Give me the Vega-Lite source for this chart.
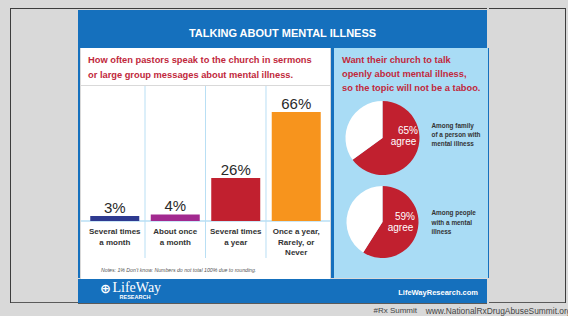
{
  "$schema": "https://vega.github.io/schema/vega-lite/v6.json",
  "background": "#d9d9d9",
  "padding": {"left": 10, "top": 8, "right": 0, "bottom": 0},
  "config": {"view": {"stroke": null}, "concat": {"spacing": 0}, "text": {"font": "Liberation Sans"}},
  "datasets": {
    "bars": [
      {"category": "Several times|a month", "share": 0.03},
      {"category": "About once|a month", "share": 0.04},
      {"category": "Several times|a year", "share": 0.26},
      {"category": "Once a year,|Rarely, or|Never", "share": 0.66}
    ],
    "pie1": [
      {"group": "Among family|of a person with|mental illness", "answer": "agree", "share": 0.65},
      {"group": "Among family|of a person with|mental illness", "answer": "other", "share": 0.35}
    ],
    "pie2": [
      {"group": "Among people|with a mental|illness", "answer": "agree", "share": 0.59},
      {"group": "Among people|with a mental|illness", "answer": "other", "share": 0.41}
    ],
    "notes": [{"note": "Notes: 1% Don't know. Numbers do not total 100% due to rounding."}]
  },
  "spacing": 0,
  "vconcat": [
    {
      "spacing": 0,
      "hconcat": [
        {
          "spacing": 0,
          "hconcat": [
            {"width": 1, "height": 295, "view": {"fill": "#3d3d3d"}, "mark": {"type": "text", "text": ""}},
            {"spacing": 0, "vconcat": [
              {"width": 67, "height": 1, "view": {"fill": "#3d3d3d"}, "mark": {"type": "text", "text": ""}},
              {"width": 67, "height": 293, "view": {"fill": "#d9d9d9"}, "mark": {"type": "text", "text": ""}},
              {"width": 67, "height": 1, "view": {"fill": "#5a5a5a"}, "mark": {"type": "text", "text": ""}}
            ]}
          ]
        },
        {
          "spacing": 0,
          "vconcat": [
            {"width": 409, "height": 1, "view": {"fill": "#3d3d3d"}, "mark": {"type": "text", "text": ""}},
            {"width": 409, "height": 1, "view": {"fill": "#d9d9d9"}, "mark": {"type": "text", "text": ""}},
            {"width": 409, "height": 38, "view": {"fill": "#1570bd"},
             "data": {"values": [{"title": "TALKING ABOUT MENTAL ILLNESS"}]},
             "mark": {"type": "text", "clip": true, "baseline": "middle", "fontWeight": "bold", "fontSize": 11, "color": "#ffffff", "dy": 4.8},
             "encoding": {"text": {"field": "title"}}},
            {
              "spacing": 0,
              "hconcat": [
                {"width": 2, "height": 230, "view": {"fill": "#1570bd"}, "mark": {"type": "text", "text": ""}},
                {
                  "spacing": 0,
                  "vconcat": [
                    {"width": 249, "height": 37, "view": {"fill": "#ffffff"},
                     "data": {"values": [{"subtitle": "How often pastors speak to the church in sermons|or large group messages about mental illness."}]},
                     "mark": {"type": "text", "clip": true, "lineBreak": "|", "align": "left", "baseline": "middle", "lineHeight": 15, "dx": -117.5, "dy": -6.5, "fontWeight": "bold", "fontSize": 9.3, "color": "#c1283c"},
                     "encoding": {"text": {"field": "subtitle"}}},
                    {"width": 249, "height": 193, "view": {"fill": "#ffffff"},
                     "data": {"name": "bars"},
                     "layer": [
                       {"transform": [{"filter": "datum.category != 'Several times|a month'"}],
                        "mark": {"type": "rule", "color": "#b9dff4", "strokeWidth": 1},
                        "encoding": {
                          "x": {"field": "category", "type": "nominal", "bandPosition": 0, "axis": null, "sort": null,
                                "scale": {"domain": ["Several times|a month", "About once|a month", "Several times|a year", "Once a year,|Rarely, or|Never"], "paddingInner": 0, "paddingOuter": 0.058}},
                          "y": {"datum": 0.81818, "axis": null},
                          "y2": {"datum": -0.2242}
                        }},
                       {"transform": [{"filter": "datum.share > 0.5"}],
                        "mark": {"type": "rule", "color": "#b9dff4", "strokeWidth": 1.5},
                        "encoding": {"y": {"datum": 0, "axis": null}}},
                       {"mark": {"type": "bar", "width": {"band": 0.81}},
                        "encoding": {
                          "x": {"field": "category", "type": "nominal", "sort": null, "axis": null,
                                "scale": {"domain": ["Several times|a month", "About once|a month", "Several times|a year", "Once a year,|Rarely, or|Never"], "paddingInner": 0, "paddingOuter": 0.058}},
                          "y": {"field": "share", "type": "quantitative", "axis": null, "scale": {"domain": [-0.35152, 0.81818], "nice": false, "zero": false}},
                          "color": {"field": "category", "type": "nominal", "legend": null, "sort": null,
                                    "scale": {"domain": ["Several times|a month", "About once|a month", "Several times|a year", "Once a year,|Rarely, or|Never"], "range": ["#2e3a90", "#a2298f", "#c1202f", "#f7941d"]}}
                        }},
                       {"mark": {"type": "text", "baseline": "middle", "dy": -8, "fontSize": 15, "color": "#2a2a2a"},
                        "encoding": {
                          "x": {"field": "category", "type": "nominal", "axis": null, "sort": null},
                          "y": {"field": "share", "type": "quantitative", "axis": null},
                          "text": {"field": "share", "format": ".0%"}
                        }},
                       {"mark": {"type": "text", "baseline": "top", "dy": 7.5, "lineBreak": "|", "lineHeight": 10.3, "fontWeight": "bold", "fontSize": 8, "color": "#333333"},
                        "encoding": {
                          "x": {"field": "category", "type": "nominal", "axis": null, "sort": null},
                          "y": {"datum": 0, "axis": null},
                          "text": {"field": "category"}
                        }},
                       {"data": {"name": "notes"},
                        "mark": {"type": "text", "clip": true, "align": "left", "baseline": "middle", "dx": -104.5, "fontSize": 5.2, "fontStyle": "italic", "color": "#555555"},
                        "encoding": {
                          "y": {"datum": -0.297, "axis": null},
                          "text": {"field": "note"}
                        }}
                     ]}
                  ]
                },
                {"width": 3, "height": 230, "view": {"fill": "#1570bd"}, "mark": {"type": "text", "text": ""}},
                {
                  "spacing": 0,
                  "vconcat": [
                    {"width": 154, "height": 52, "view": {"fill": "#a9dcf5"},
                     "data": {"values": [{"subtitle": "Want their church to talk|openly about mental illness,|so the topic will not be a taboo."}]},
                     "mark": {"type": "text", "clip": true, "lineBreak": "|", "align": "left", "baseline": "middle", "lineHeight": 14.2, "dx": -69, "dy": -14, "fontWeight": "bold", "fontSize": 9.3, "color": "#c1283c"},
                     "encoding": {"text": {"field": "subtitle"}}},
                    {
                      "spacing": 0,
                      "hconcat": [
                        {"width": 97, "height": 76, "view": {"fill": "#a9dcf5"},
                         "data": {"name": "pie1"},
                         "layer": [
                           {"mark": {"type": "arc", "outerRadius": 37},
                            "encoding": {
                              "theta": {"field": "share", "type": "quantitative", "stack": true},
                              "color": {"condition": {"test": "datum.answer == 'agree'", "value": "#c1202f"}, "value": "#ffffff"},
                              "order": {"field": "answer", "sort": "ascending"}
                            }},
                           {"transform": [{"filter": "datum.answer == 'agree'"}],
                            "mark": {"type": "text", "color": "#ffffff", "fontSize": 10, "dx": 25.5, "dy": -6.7, "baseline": "middle"},
                            "encoding": {"text": {"field": "share", "format": ".0%"}}},
                           {"transform": [{"filter": "datum.answer == 'agree'"}],
                            "mark": {"type": "text", "color": "#ffffff", "fontSize": 10, "dx": 21, "dy": 3.5, "baseline": "middle"},
                            "encoding": {"text": {"field": "answer"}}}
                         ]},
                        {"width": 57, "height": 76, "view": {"fill": "#a9dcf5"},
                         "data": {"name": "pie1"},
                         "transform": [{"filter": "datum.answer == 'agree'"}],
                         "mark": {"type": "text", "clip": true, "align": "left", "baseline": "middle", "lineBreak": "|", "lineHeight": 9, "dx": -28, "dy": -12, "fontWeight": "bold", "fontSize": 6.4, "color": "#333333"},
                         "encoding": {"text": {"field": "group"}}}
                      ]
                    },
                    {
                      "spacing": 0,
                      "hconcat": [
                        {"width": 97, "height": 92, "view": {"fill": "#a9dcf5"},
                         "data": {"name": "pie2"},
                         "layer": [
                           {"mark": {"type": "arc", "outerRadius": 36},
                            "encoding": {
                              "theta": {"field": "share", "type": "quantitative", "stack": true},
                              "color": {"condition": {"test": "datum.answer == 'agree'", "value": "#c1202f"}, "value": "#ffffff"},
                              "order": {"field": "answer", "sort": "ascending"}
                            }},
                           {"transform": [{"filter": "datum.answer == 'agree'"}],
                            "mark": {"type": "text", "color": "#ffffff", "fontSize": 10, "dx": 22.5, "dy": -4.8, "baseline": "middle"},
                            "encoding": {"text": {"field": "share", "format": ".0%"}}},
                           {"transform": [{"filter": "datum.answer == 'agree'"}],
                            "mark": {"type": "text", "color": "#ffffff", "fontSize": 10, "dx": 18, "dy": 5.6, "baseline": "middle"},
                            "encoding": {"text": {"field": "answer"}}}
                         ]},
                        {"width": 57, "height": 92, "view": {"fill": "#a9dcf5"},
                         "data": {"name": "pie2"},
                         "transform": [{"filter": "datum.answer == 'agree'"}],
                         "mark": {"type": "text", "clip": true, "align": "left", "baseline": "middle", "lineBreak": "|", "lineHeight": 9.5, "dx": -28, "dy": -9, "fontWeight": "bold", "fontSize": 6.4, "color": "#333333"},
                         "encoding": {"text": {"field": "group"}}}
                      ]
                    },
                    {"width": 154, "height": 10, "view": {"fill": "#a9dcf5"}, "mark": {"type": "text", "text": ""}}
                  ]
                },
                {"width": 1, "height": 230, "view": {"fill": "#1570bd"}, "mark": {"type": "text", "text": ""}}
              ]
            },
            {"width": 409, "height": 24, "view": {"fill": "#1570bd"},
             "data": {"values": [{"icon": "⊕", "logo": "LifeWay", "sub": "RESEARCH", "url": "LifeWayResearch.com"}]},
             "layer": [
               {"mark": {"type": "text", "clip": true, "font": "DejaVu Sans", "fontWeight": "bold", "fontSize": 13, "color": "#ffffff", "dx": -177, "dy": -2.5, "baseline": "middle"},
                "encoding": {"text": {"field": "icon"}}},
               {"mark": {"type": "text", "clip": true, "font": "Liberation Serif", "fontSize": 14, "color": "#ffffff", "align": "left", "dx": -170, "dy": -3, "baseline": "middle"},
                "encoding": {"text": {"field": "logo"}}},
               {"mark": {"type": "text", "clip": true, "fontWeight": "bold", "fontSize": 5.5, "color": "#ffffff", "dx": -147.5, "dy": 5.7, "baseline": "middle"},
                "encoding": {"text": {"field": "sub"}}},
               {"mark": {"type": "text", "clip": true, "fontWeight": "bold", "fontSize": 7.5, "color": "#ffffff", "align": "right", "dx": 195.5, "dy": 2, "baseline": "middle"},
                "encoding": {"text": {"field": "url"}}}
             ]},
            {"width": 409, "height": 1, "view": {"fill": "#5a5a5a"}, "mark": {"type": "text", "text": ""}}
          ]
        },
        {
          "spacing": 0,
          "hconcat": [
            {"spacing": 0, "vconcat": [
              {"width": 76, "height": 1, "view": {"fill": "#3d3d3d"}, "mark": {"type": "text", "text": ""}},
              {"width": 76, "height": 293, "view": {"fill": "#d9d9d9"}, "mark": {"type": "text", "text": ""}},
              {"width": 76, "height": 1, "view": {"fill": "#5a5a5a"}, "mark": {"type": "text", "text": ""}}
            ]},
            {"width": 1, "height": 295, "view": {"fill": "#3d3d3d"}, "mark": {"type": "text", "text": ""}}
          ]
        }
      ]
    },
    {"width": 554, "height": 13,
     "data": {"values": [{"tag": "#Rx Summit", "site": "www.NationalRxDrugAbuseSummit.org"}]},
     "layer": [
       {"mark": {"type": "text", "fontSize": 8, "color": "#444444", "align": "right", "dx": 130, "baseline": "middle"},
        "encoding": {"text": {"field": "tag"}}},
       {"mark": {"type": "text", "fontSize": 8.4, "color": "#444444", "align": "left", "dx": 138.7, "baseline": "middle"},
        "encoding": {"text": {"field": "site"}}}
     ]}
  ]
}
